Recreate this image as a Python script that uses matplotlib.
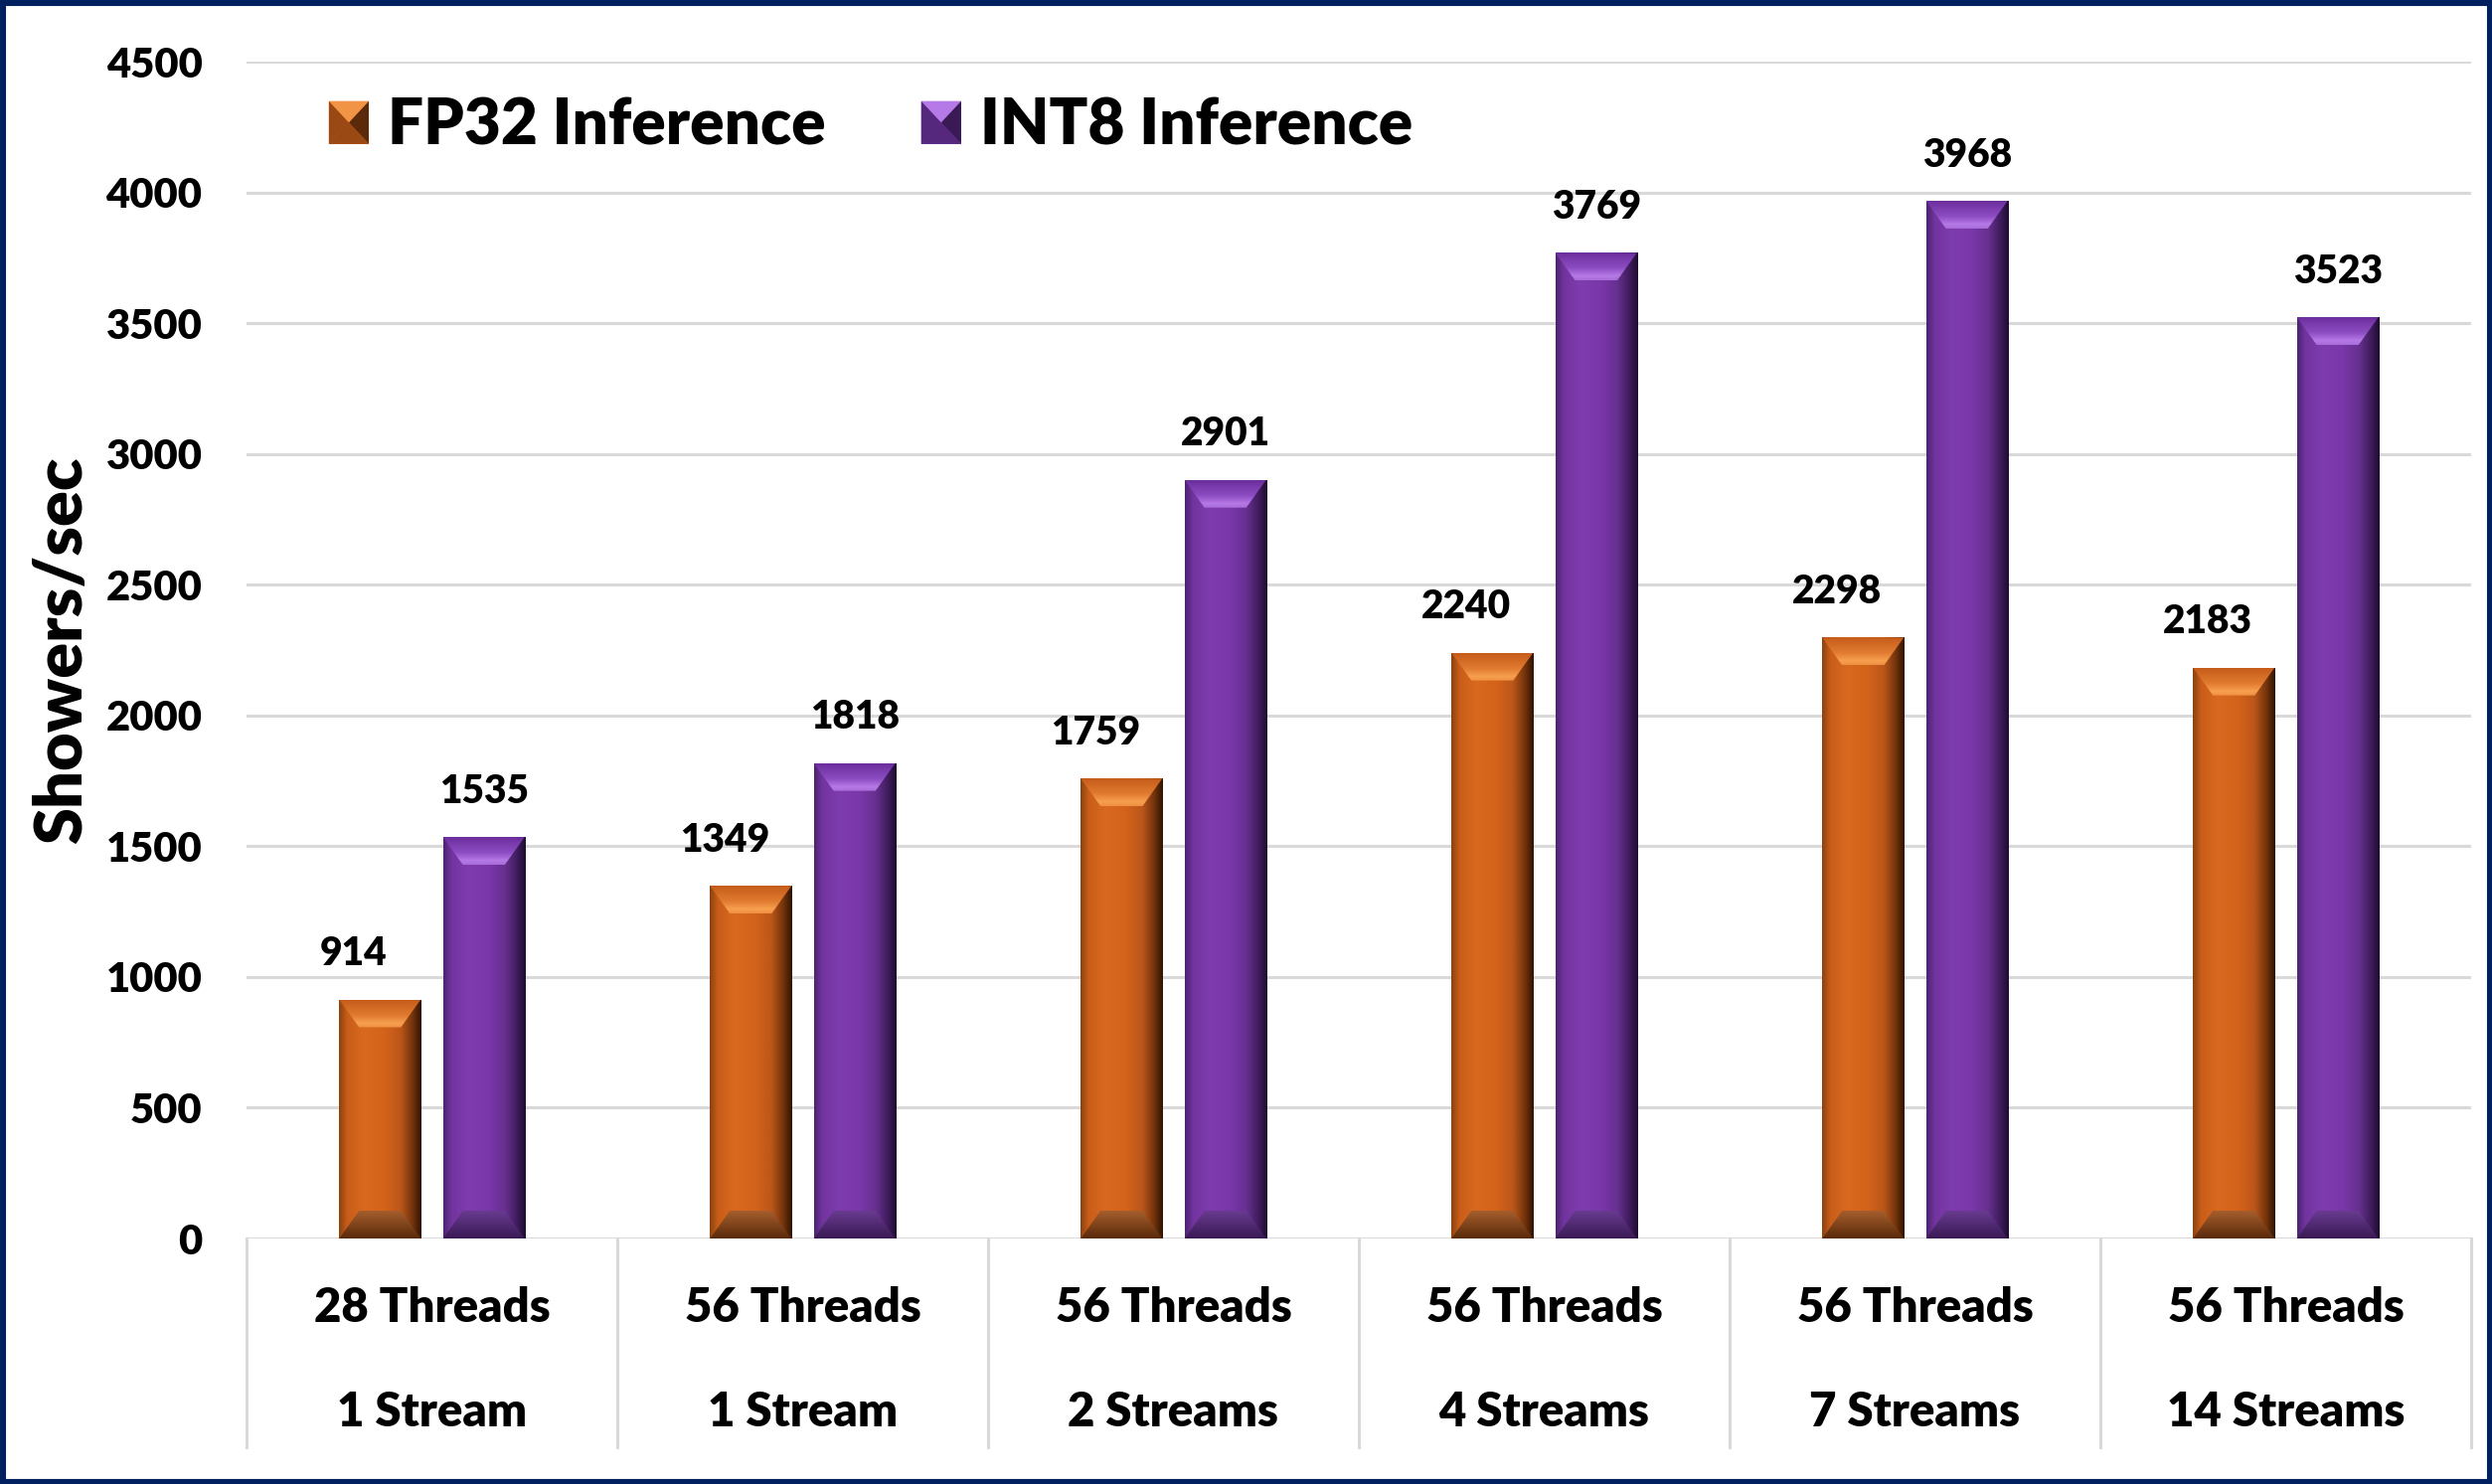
#
# plot.py - FP32 vs INT8 inference throughput, bevelled bar chart
#
import numpy as np
import matplotlib
matplotlib.use('Agg')
import matplotlib.pyplot as plt
import matplotlib.transforms as mtransforms
from matplotlib.patches import Polygon, Rectangle
from matplotlib.colors import LinearSegmentedColormap
from matplotlib.legend_handler import HandlerBase

# data
threads = ['28 Threads', '56 Threads', '56 Threads', '56 Threads', '56 Threads', '56 Threads']
streams = ['1 Stream', '1 Stream', '2 Streams', '4 Streams', '7 Streams', '14 Streams']
fp32 = [914, 1349, 1759, 2240, 2298, 2183]
int8 = [1535, 1818, 2901, 3769, 3968, 3523]
series_names = ['FP32 Inference', 'INT8 Inference']

# colour sets for the bevel look (body = left->right, top/bottom = bevel strips)
body_stops = [0, 0.1, 0.3, 0.55, 0.75, 0.9, 1.0]
orange = dict(main='#d4631a',
              body=['#8a4212', '#c95d19', '#d8691f', '#d4631a', '#bb561a', '#70320b', '#2e1404'],
              top=[(0, '#c65c1a'), (0.55, '#e07a30'), (0.85, '#f8a050'), (1, '#ee9040')],
              bottom=[(0, '#a8602e'), (1, '#5a2a0a')],
              light='#f29446', dark='#5a2a0a', side='#9a4814')
purple = dict(main='#7a37aa',
              body=['#4b2470', '#72349f', '#7e3cae', '#7a37aa', '#66308f', '#3e1c5c', '#1e0c2e'],
              top=[(0, '#6c2e9c'), (0.55, '#8c4cc2'), (0.85, '#b67ae6'), (1, '#a86cd8')],
              bottom=[(0, '#6a3c92'), (1, '#3a1a55')],
              light='#b57ae6', dark='#3a1a55', side='#55287e')

plt.rcParams['font.family'] = ['Lato', 'DejaVu Sans']
WT = 'heavy'

W, H = 2507, 1493
fig = plt.figure(figsize=(W / 100, H / 100), dpi=100)
ax = fig.add_axes([248 / W, 1 - 1246 / H, 2238 / W, 1184 / H])

x = np.arange(len(threads))
bw = 0.22
off = 0.14
ymax = 4500

bars_fp = ax.bar(x - off, fp32, bw, color=orange['main'], zorder=2)
bars_in = ax.bar(x + off, int8, bw, color=purple['main'], zorder=2)

# bevel size in pixels -> data units
px_x = 2238 / len(threads)
px_y = 1184 / ymax
dx = 20 / px_x
dy = 28 / px_y


def bevel(rect, pal):
    x0, w, h = rect.get_x(), rect.get_width(), rect.get_height()
    cmap = LinearSegmentedColormap.from_list('body', list(zip(body_stops, pal['body'])))
    im = ax.imshow(np.linspace(0, 1, 256)[None, :], cmap=cmap, extent=[x0, x0 + w, 0, h],
                   aspect='auto', zorder=3, interpolation='bilinear')
    im.set_clip_path(rect)
    # top bevel
    top = Polygon([(x0, h), (x0 + w, h), (x0 + w - dx, h - dy), (x0 + dx, h - dy)],
                  closed=True, facecolor='none', edgecolor='none', zorder=4)
    ax.add_patch(top)
    tcm = LinearSegmentedColormap.from_list('top', pal['top'])
    im2 = ax.imshow(np.linspace(0, 1, 64)[:, None], cmap=tcm, extent=[x0, x0 + w, h - dy, h],
                    aspect='auto', zorder=4, interpolation='bilinear')
    im2.set_clip_path(top)
    # bottom bevel
    bot = Polygon([(x0, 0), (x0 + w, 0), (x0 + w - dx, dy), (x0 + dx, dy)],
                  closed=True, facecolor='none', edgecolor='none', zorder=4)
    ax.add_patch(bot)
    bcm = LinearSegmentedColormap.from_list('bot', pal['bottom'])
    im3 = ax.imshow(np.linspace(0, 1, 64)[:, None], cmap=bcm, extent=[x0, x0 + w, 0, dy],
                    aspect='auto', zorder=4, interpolation='bilinear')
    im3.set_clip_path(bot)


for r in bars_fp:
    bevel(r, orange)
for r in bars_in:
    bevel(r, purple)

ax.set_xlim(-0.5, len(threads) - 0.5)
ax.set_ylim(0, ymax)

# value labels
for r, v in zip(bars_fp, fp32):
    ax.annotate(str(v), (r.get_x() + r.get_width() / 2, v), xytext=(-19, 33),
                textcoords='offset points', ha='center', va='center', fontsize=28,
                fontweight=WT)
for r, v in zip(bars_in, int8):
    ax.annotate(str(v), (r.get_x() + r.get_width() / 2, v), xytext=(0, 33),
                textcoords='offset points', ha='center', va='center', fontsize=28,
                fontweight=WT)

# axes styling
ax.set_yticks(np.arange(0, ymax + 1, 500))
ax.yaxis.grid(True, color='#d9d9d9', lw=2.2)
ax.set_axisbelow(True)
ax.tick_params(axis='y', length=0, pad=32, labelsize=30)
for lab in ax.get_yticklabels():
    lab.set_fontweight(WT)
ax.set_xticks([])
for s in ax.spines.values():
    s.set_visible(False)
ax.set_ylabel('Showers/sec', fontsize=48, fontweight=WT)
ax.yaxis.set_label_coords(-0.069, 0.5)

# category axis: two-line labels in boxes
blend = mtransforms.blended_transform_factory(ax.transData, ax.transAxes)
for b in np.arange(-0.5, len(threads), 1):
    ax.plot([b, b], [0, -0.177], transform=blend, color='#d9d9d9', lw=2.2, clip_on=False)
for i in x:
    ax.text(i, -0.059, threads[i], transform=blend, ha='center', va='center',
            fontsize=34, fontweight=WT)
    ax.text(i, -0.148, streams[i], transform=blend, ha='center', va='center',
            fontsize=34, fontweight=WT)


# legend with bevelled keys
class BevelKey(HandlerBase):
    def __init__(self, pal):
        super().__init__()
        self.pal = pal

    def create_artists(self, legend, orig_handle, xdescent, ydescent, width, height,
                       fontsize, trans):
        p = self.pal
        x0, y0 = -xdescent, -ydescent
        x1, y1 = x0 + width, y0 + height
        xm, ym = (x0 + x1) / 2, (y0 + y1) / 2
        parts = [
            Rectangle((x0, y0), width, height, facecolor=p['main'], edgecolor='none'),
            Polygon([(x0, y0), (x0, y1), (xm, ym)], facecolor=p['side'], edgecolor='none'),
            Polygon([(x1, y0), (x1, y1), (xm, ym)], facecolor=p['dark'], edgecolor='none'),
            Polygon([(x0, y1), (x1, y1), (xm, ym)], facecolor=p['light'], edgecolor='none'),
            Polygon([(x0, y0), (x1, y0), (xm, ym)], facecolor=p['side'], edgecolor='none'),
        ]
        for a in parts:
            a.set_transform(trans)
        return parts


h_fp = Rectangle((0, 0), 1, 1)
h_in = Rectangle((0, 0), 1, 1)
ax.legend([h_fp, h_in], series_names, handler_map={h_fp: BevelKey(orange), h_in: BevelKey(purple)},
          loc='center left', bbox_to_anchor=(0.037, 0.945), ncol=2, frameon=False,
          prop={'size': 46, 'weight': WT}, handlelength=0.63, handleheight=0.66,
          handletextpad=0.3, columnspacing=1.5, borderpad=0, borderaxespad=0)

# dark navy frame round the picture
fig.patches.append(Rectangle((0, 0), 1, 1, transform=fig.transFigure, fill=False,
                             edgecolor='#002060', lw=8, zorder=10))

fig.savefig('out.png', dpi=100)
